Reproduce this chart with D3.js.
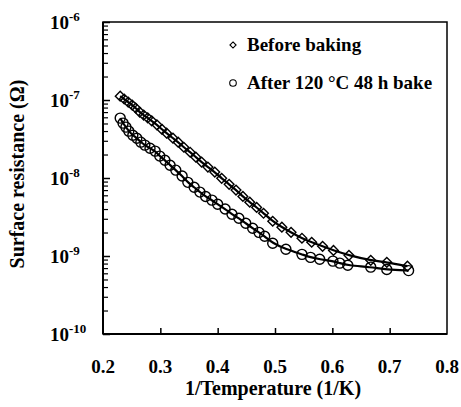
<!DOCTYPE html>
<html>
<head>
<meta charset="utf-8">
<script src="https://cdn.jsdelivr.net/npm/d3@7"></script>
<style>
  html, body { margin: 0; padding: 0; background: #fff; }
</style>
</head>
<body>
<svg id="chart" width="461" height="407"></svg>
<script>
// Surface resistance vs inverse temperature, before and after baking
const beforeX = [0.230,0.237,0.244,0.251,0.257,0.264,0.271,0.278,0.285,0.294,0.303,0.311,0.322,0.331,0.341,0.352,0.362,0.372,0.383,0.395,0.407,0.420,0.432,0.444,0.456,0.468,0.480,0.496,0.512,0.528,0.547,0.564,0.583,0.602,0.629,0.667,0.695,0.731];
const beforeR = [1.12e-7,1.03e-7,9.4e-8,8.6e-8,7.9e-8,7.0e-8,6.4e-8,5.9e-8,5.4e-8,4.8e-8,4.2e-8,3.76e-8,3.24e-8,2.88e-8,2.48e-8,2.14e-8,1.85e-8,1.60e-8,1.38e-8,1.19e-8,9.9e-9,8.3e-9,7.0e-9,5.8e-9,4.9e-9,4.2e-9,3.53e-9,2.79e-9,2.34e-9,2.01e-9,1.69e-9,1.50e-9,1.33e-9,1.18e-9,1.02e-9,8.8e-10,8.3e-10,7.4e-10];
const afterX = [0.230,0.235,0.240,0.245,0.252,0.259,0.266,0.273,0.282,0.291,0.299,0.308,0.317,0.327,0.338,0.348,0.359,0.369,0.379,0.390,0.400,0.413,0.425,0.437,0.449,0.461,0.472,0.482,0.496,0.519,0.547,0.562,0.578,0.601,0.613,0.627,0.667,0.695,0.733];
const afterR = [5.86e-8,5.05e-8,4.49e-8,3.99e-8,3.54e-8,3.24e-8,2.88e-8,2.64e-8,2.41e-8,2.21e-8,1.91e-8,1.69e-8,1.46e-8,1.26e-8,1.06e-8,8.8e-9,7.6e-9,6.6e-9,5.8e-9,5.2e-9,4.6e-9,4.0e-9,3.43e-9,3.05e-9,2.63e-9,2.27e-9,2.01e-9,1.79e-9,1.46e-9,1.22e-9,1.05e-9,9.6e-10,9.1e-10,8.6e-10,8.1e-10,7.6e-10,7.2e-10,6.7e-10,6.5e-10];
const xTicks = [0.2,0.3,0.4,0.5,0.6,0.7,0.8];
const yExponents = [-6,-7,-8,-9,-10];
const seriesNames = ["Before baking", "After 120 \u00B0C 48 h bake"];

const FONT = "Liberation Serif";

const svg = d3.select("#chart");
const m = { left: 103, right: 447, top: 22, bottom: 334 };

const x = d3.scaleLinear().domain([0.2, 0.8]).range([m.left, m.right]);
const y = d3.scaleLog().domain([1e-10, 1e-6]).range([m.bottom, m.top]);

// frame
svg.append("rect")
  .attr("x", m.left).attr("y", m.top)
  .attr("width", m.right - m.left).attr("height", m.bottom - m.top)
  .attr("fill", "none").attr("stroke", "#000").attr("stroke-width", 1.5);
svg.append("line").attr("x1", m.left).attr("x2", m.left).attr("y1", m.top).attr("y2", m.bottom)
  .attr("stroke", "#000").attr("stroke-width", 2);
svg.append("line").attr("x1", m.left).attr("x2", m.right).attr("y1", m.bottom).attr("y2", m.bottom)
  .attr("stroke", "#000").attr("stroke-width", 2);

// x axis: ticks pointing into the plot
const xAxis = d3.axisTop(x).tickValues(xTicks.slice(1, -1)).tickSize(6).tickFormat("");
const gx = svg.append("g").attr("transform", `translate(0,${m.bottom})`).call(xAxis);
gx.select(".domain").remove();
gx.selectAll("line").attr("stroke-width", 1.5);

const textStyle = sel => sel
  .attr("font-family", FONT).attr("font-weight", "bold").attr("fill", "#000");

svg.append("g").selectAll("text").data(xTicks).join("text")
  .call(textStyle)
  .attr("x", d => x(d)).attr("y", 373)
  .attr("text-anchor", "middle").attr("font-size", 19)
  .text(d => d.toFixed(1));

// y axis: major decades plus minor ticks, inward
const minor = [];
yExponents.slice(1).forEach(e => { for (let k = 2; k <= 9; k++) minor.push(k * Math.pow(10, e)); });
const gyMinor = svg.append("g").attr("transform", `translate(${m.left},0)`)
  .call(d3.axisRight(y).tickValues(minor).tickSize(5).tickFormat(""));
gyMinor.select(".domain").remove();
gyMinor.selectAll("line").attr("stroke-width", 1.2);
const gyMajor = svg.append("g").attr("transform", `translate(${m.left},0)`)
  .call(d3.axisRight(y).tickValues(yExponents.map(e => Math.pow(10, e))).tickSize(7).tickFormat(""));
gyMajor.select(".domain").remove();
gyMajor.selectAll("line").attr("stroke-width", 1.5);

const yl = svg.append("g").selectAll("text").data(yExponents).join("text")
  .call(textStyle)
  .attr("x", 50).attr("y", d => y(Math.pow(10, d)) + 7)
  .attr("font-size", 19);
yl.append("tspan").text("10");
yl.append("tspan").attr("dy", -8).attr("font-size", 13).text(d => "-" + Math.abs(d));

// axis titles
svg.append("text").call(textStyle)
  .attr("x", 273).attr("y", 395)
  .attr("text-anchor", "middle").attr("font-size", 20).text("1/Temperature (1/K)");
svg.append("text").call(textStyle)
  .attr("transform", "translate(24,174) rotate(-90)")
  .attr("text-anchor", "middle").attr("font-size", 20).text("Surface resistance (\u03A9)");

// fitted curves and points
const before = beforeX.map((v, i) => [v, beforeR[i]]);
const after = afterX.map((v, i) => [v, afterR[i]]);
const line = d3.line().x(d => x(d[0])).y(d => y(d[1])).curve(d3.curveBasis);
[before, after].forEach(s => {
  svg.append("path").attr("d", line(s)).attr("fill", "none")
    .attr("stroke", "#000").attr("stroke-width", 2.2);
});

const diamond = d3.symbol().type(d3.symbolDiamond2).size(60);
svg.append("g").selectAll("path").data(before).join("path")
  .attr("transform", d => `translate(${x(d[0])},${y(d[1])})`)
  .attr("d", diamond).attr("fill", "none").attr("stroke", "#000").attr("stroke-width", 1.4);
svg.append("g").selectAll("circle").data(after).join("circle")
  .attr("cx", d => x(d[0])).attr("cy", d => y(d[1])).attr("r", 5)
  .attr("fill", "none").attr("stroke", "#000").attr("stroke-width", 1.4);

// legend
const lg = svg.append("g");
lg.append("path").attr("transform", "translate(233,45)")
  .attr("d", d3.symbol().type(d3.symbolDiamond2).size(24))
  .attr("fill", "none").attr("stroke", "#000").attr("stroke-width", 1.1);
lg.append("circle").attr("cx", 233).attr("cy", 83).attr("r", 3.3)
  .attr("fill", "none").attr("stroke", "#000").attr("stroke-width", 1.1);
lg.selectAll("text").data(seriesNames).join("text")
  .call(textStyle)
  .attr("x", 247).attr("y", (d, i) => 51 + i * 38)
  .attr("font-size", 19).text(d => d);
</script>
</body>
</html>
